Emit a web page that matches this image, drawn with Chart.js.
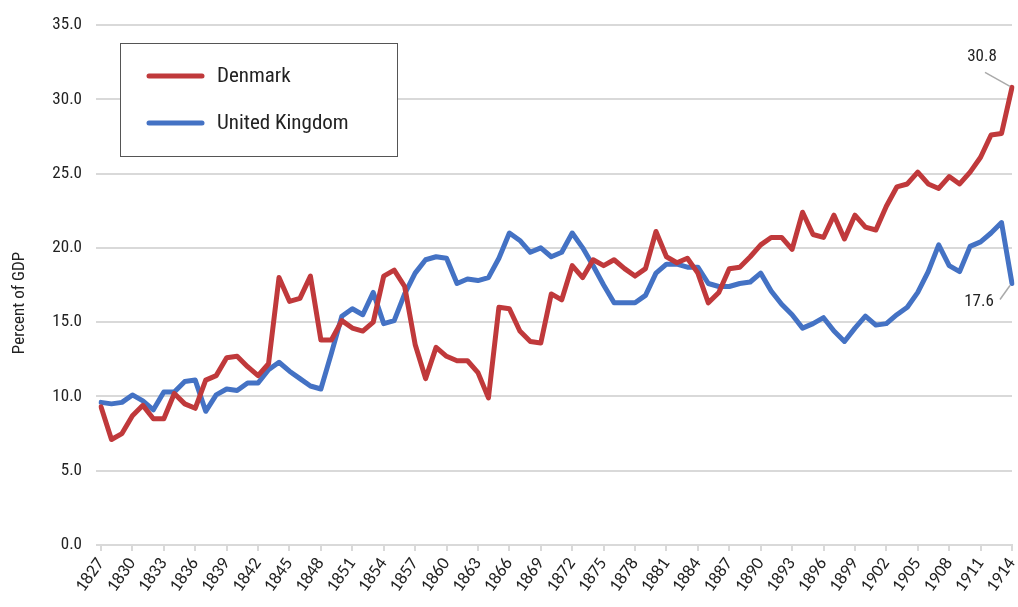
<!DOCTYPE html>
<html>
<head>
<meta charset="utf-8">
<script src="https://cdn.jsdelivr.net/npm/chart.js@4.4.1/dist/chart.umd.min.js"></script>
<style>
  html, body { margin: 0; padding: 0; background: #fff; }
  #wrap { width: 1018px; height: 607px; }
</style>
</head>
<body>
<div id="wrap"><canvas id="myChart" width="1018" height="607"></canvas></div>
<script>
const years = [];
for (let y = 1827; y <= 1914; y++) years.push(String(y));

const denmark = [
    9.3, 7.1, 7.5, 8.7, 9.4, 8.5, 8.5, 10.2, 9.5, 9.2,
    11.1, 11.4, 12.6, 12.7, 12.0, 11.4, 12.2, 18.0, 16.4, 16.6,
    18.1, 13.8, 13.8, 15.1, 14.6, 14.4, 15.0, 18.1, 18.5, 17.4,
    13.5, 11.2, 13.3, 12.7, 12.4, 12.4, 11.6, 9.9, 16.0, 15.9,
    14.4, 13.7, 13.6, 16.9, 16.5, 18.8, 18.0, 19.2, 18.8, 19.2,
    18.6, 18.1, 18.6, 21.1, 19.4, 19.0, 19.3, 18.3, 16.3, 17.0,
    18.6, 18.7, 19.4, 20.2, 20.7, 20.7, 19.9, 22.4, 20.9, 20.7,
    22.2, 20.6, 22.2, 21.4, 21.2, 22.8, 24.1, 24.3, 25.1, 24.3,
    24.0, 24.8, 24.3, 25.1, 26.1, 27.6, 27.7, 30.8
];

const unitedKingdom = [
    9.6, 9.5, 9.6, 10.1, 9.7, 9.1, 10.3, 10.3, 11.0, 11.1,
    9.0, 10.1, 10.5, 10.4, 10.9, 10.9, 11.8, 12.3, 11.7, 11.2,
    10.7, 10.5, 12.9, 15.4, 15.9, 15.5, 17.0, 14.9, 15.1, 16.9,
    18.3, 19.2, 19.4, 19.3, 17.6, 17.9, 17.8, 18.0, 19.3, 21.0,
    20.5, 19.7, 20.0, 19.4, 19.7, 21.0, 20.0, 18.8, 17.5, 16.3,
    16.3, 16.3, 16.8, 18.3, 18.9, 18.9, 18.7, 18.7, 17.6, 17.4,
    17.4, 17.6, 17.7, 18.3, 17.1, 16.2, 15.5, 14.6, 14.9, 15.3,
    14.4, 13.7, 14.6, 15.4, 14.8, 14.9, 15.5, 16.0, 17.0, 18.4,
    20.2, 18.8, 18.4, 20.1, 20.4, 21.0, 21.7, 17.6
];

const seriesNames = ['Denmark', 'United Kingdom'];
const seriesColors = ['#C0393B', '#4472C4'];
const axisTitle = 'Percent of GDP';

const narrow = "'Roboto Condensed', 'Liberation Sans Narrow', 'Arial Narrow', 'DejaVu Sans Condensed', Roboto, sans-serif";
const textColor = '#222';
const gridColor = '#d9d9d9';

// legend box, axis title and end labels
const extras = {
    id: 'extras',
    afterDraw(chart) {
        const c = chart.ctx;
        const area = chart.chartArea;

        c.save();
        c.fillStyle = textColor;
        c.font = '17px ' + narrow;
        c.textAlign = 'center';
        c.textBaseline = 'middle';
        c.translate(20, 303);
        c.rotate(-Math.PI / 2);
        c.fillText(axisTitle, 0, 0);
        c.restore();

        // legend
        const bx = area.left + 19, by = 43, bw = 277, bh = 113;
        c.save();
        c.fillStyle = '#fff';
        c.fillRect(bx, by, bw, bh);
        c.strokeStyle = '#555';
        c.lineWidth = 1;
        c.strokeRect(bx + 0.5, by + 0.5, bw, bh);
        chart.data.datasets.forEach((ds, i) => {
            const ly = by + 33 + i * 47;
            c.strokeStyle = ds.borderColor;
            c.lineWidth = 5;
            c.lineCap = 'round';
            c.beginPath();
            c.moveTo(bx + 29, ly);
            c.lineTo(bx + 82, ly);
            c.stroke();
            c.fillStyle = textColor;
            c.font = '21px ' + narrow;
            c.textAlign = 'left';
            c.textBaseline = 'middle';
            c.fillText(ds.label, bx + 97, ly + 1);
        });
        c.restore();

        // value labels at the last point
        const xs = chart.scales.x, ys = chart.scales.y;
        const last = years.length - 1;
        const px = xs.getPixelForValue(last);
        c.save();
        c.strokeStyle = '#aaa';
        c.lineWidth = 1.5;
        c.fillStyle = textColor;
        c.font = '17px ' + narrow;
        c.textAlign = 'center';
        c.textBaseline = 'middle';

        let py = ys.getPixelForValue(denmark[last]);
        c.beginPath();
        c.moveTo(px - 27, py - 15);
        c.lineTo(px - 2, py - 1);
        c.stroke();
        c.fillText(denmark[last].toFixed(1), px - 30, py - 31);

        py = ys.getPixelForValue(unitedKingdom[last]);
        c.beginPath();
        c.moveTo(px - 2, py + 2);
        c.lineTo(px - 12, py + 16);
        c.stroke();
        c.fillText(unitedKingdom[last].toFixed(1), px - 33, py + 18);
        c.restore();
    }
};

const ctx = document.getElementById('myChart');

new Chart(ctx, {
    type: 'line',
    data: {
        labels: years,
        datasets: [{
            label: seriesNames[0],
            data: denmark,
            borderColor: seriesColors[0],
            backgroundColor: seriesColors[0],
            borderWidth: 5,
            pointRadius: 0,
            tension: 0,
            borderJoinStyle: 'round',
            borderCapStyle: 'round'
        }, {
            label: seriesNames[1],
            data: unitedKingdom,
            borderColor: seriesColors[1],
            backgroundColor: seriesColors[1],
            borderWidth: 5,
            pointRadius: 0,
            tension: 0,
            borderJoinStyle: 'round',
            borderCapStyle: 'round'
        }]
    },
    options: {
        responsive: false,
        devicePixelRatio: 1,
        animation: false,
        layout: {
            padding: { top: 25, right: 6, left: 0, bottom: 0 }
        },
        plugins: {
            legend: { display: false },
            tooltip: { enabled: false }
        },
        scales: {
            x: {
                type: 'category',
                offset: false,
                afterFit: (s) => {
                    s.height = 62;
                    s.paddingRight = 0;
                    s.paddingLeft = 0;
                },
                grid: {
                    drawOnChartArea: false,
                    drawTicks: true,
                    tickLength: 6,
                    color: gridColor,
                    lineWidth: 2
                },
                border: { display: true, color: gridColor, width: 2 },
                ticks: {
                    autoSkip: false,
                    maxRotation: 55,
                    minRotation: 55,
                    padding: 3,
                    color: textColor,
                    font: { family: "Carlito, Lato, sans-serif", size: 18 },
                    callback: function(val, i) {
                        return i % 3 === 0 ? this.getLabelForValue(val) : null;
                    }
                }
            },
            y: {
                min: 0,
                max: 35,
                afterFit: (s) => { s.width = 101; },
                grid: {
                    color: gridColor,
                    lineWidth: 2,
                    tickLength: 5
                },
                border: { display: false },
                ticks: {
                    stepSize: 5,
                    padding: 14,
                    color: textColor,
                    font: { family: narrow, size: 17 },
                    callback: (v) => v.toFixed(1)
                }
            }
        }
    },
    plugins: [extras]
});
</script>
</body>
</html>
